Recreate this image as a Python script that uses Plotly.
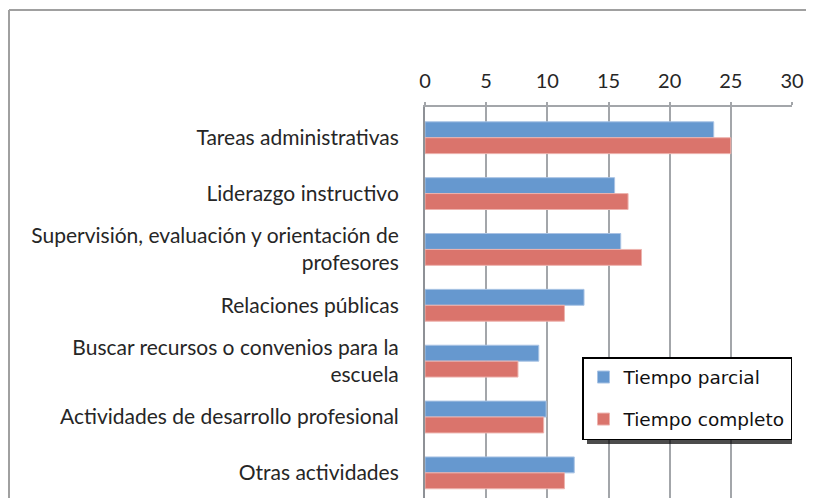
import plotly.graph_objects as go

categories = [
    "Tareas administrativas",
    "Liderazgo instructivo",
    "Supervisión, evaluación y orientación de<br>profesores",
    "Relaciones públicas",
    "Buscar recursos o convenios para la<br>escuela",
    "Actividades de desarrollo profesional",
    "Otras actividades",
]
tiempo_parcial = [23.6, 15.5, 16.0, 13.0, 9.3, 9.9, 12.2]
tiempo_completo = [25.0, 16.6, 17.7, 11.4, 7.6, 9.7, 11.4]
x_ticks = [0, 5, 10, 15, 20, 25, 30]

# the page body has an 8px margin, so the figure is shifted by 8px
OFF = 8
W, H = 814 - OFF, 498 - OFF
ML, MT, MB = 425 - OFF, 107 - OFF, 0
MR = W - (792 - OFF)
PW, PH = W - ML - MR, H - MT - MB


def px_x(p):  # page pixel -> paper x
    return (p - OFF - ML) / PW


def px_y(p):  # page pixel -> paper y
    return (H - MB - (p - OFF)) / PH


fig = go.Figure()
fig.add_trace(go.Bar(
    y=categories, x=tiempo_parcial, orientation="h", name="Tiempo parcial",
    marker=dict(color="#6698CF", line=dict(color="#A9C3E4", width=1)),
    legendgroup="a",
))
fig.add_trace(go.Bar(
    y=categories, x=tiempo_completo, orientation="h", name="Tiempo completo",
    marker=dict(color="#DA746C", line=dict(color="#EDB3AE", width=1)),
    legendgroup="b",
))

shapes = [
    # outer chart border (top and left, the rest is cropped)
    dict(type="line", xref="paper", yref="paper", x0=px_x(9), x1=px_x(830),
         y0=px_y(10), y1=px_y(10), line=dict(color="#A0A0A0", width=2)),
    dict(type="line", xref="paper", yref="paper", x0=px_x(9), x1=px_x(9),
         y0=px_y(10), y1=px_y(520), line=dict(color="#A0A0A0", width=2)),
    # legend shadow
    dict(type="rect", xref="paper", yref="paper", x0=px_x(587), x1=px_x(792),
         y0=px_y(361), y1=px_y(444), line=dict(width=0), fillcolor="rgba(0,0,0,0.7)",
         layer="above"),
]

fig.update_layout(
    width=W, height=H,
    margin=dict(l=ML, r=MR, t=MT, b=MB, autoexpand=False),
    paper_bgcolor="white", plot_bgcolor="white",
    barmode="group", bargap=0.43, bargroupgap=0,
    font=dict(family="Lato", size=21, color="#262626"),
    showlegend=True,
    legend=dict(
        x=px_x(582), y=px_y(357), xanchor="left", yanchor="top",
        bgcolor="white", bordercolor="black", borderwidth=1.5,
        font=dict(family="DejaVu Sans", size=18.5, color="#111111"),
        traceorder="grouped", tracegroupgap=15,
    ),
    shapes=shapes,
    xaxis=dict(
        side="top", range=[0, 30], tickvals=x_ticks,
        tickfont=dict(family="Lato", size=20, color="#262626"),
        showgrid=True, gridcolor="#A3A6AA", gridwidth=1.5,
        showline=True, linecolor="#A3A6AA", linewidth=1.5, mirror=False,
        ticks="outside", ticklen=3, tickcolor="#A3A6AA", tickwidth=1.5,
        ticklabelstandoff=6, zeroline=False,
        fixedrange=True,
    ),
    yaxis=dict(
        type="category", categoryorder="array", categoryarray=categories,
        range=[6.45, -0.55], showgrid=False, showline=True,
        linecolor="#8E9196", linewidth=2, ticks="", ticklabelstandoff=20,
        fixedrange=True,
    ),
)

fig.write_html("out.html")
